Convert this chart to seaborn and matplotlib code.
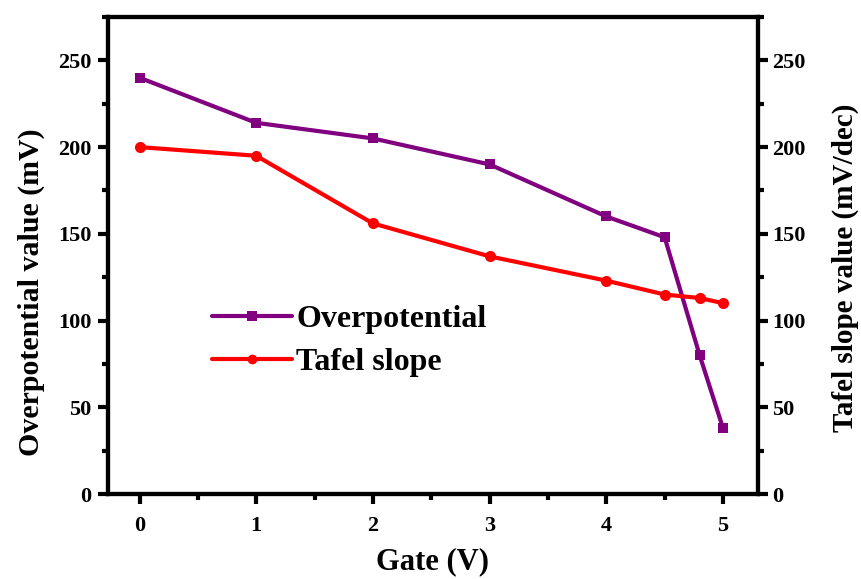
import matplotlib
matplotlib.use("Agg")
import matplotlib.pyplot as plt
from matplotlib.ticker import MultipleLocator
import seaborn as sns
import pandas as pd

gate = [0, 1, 2, 3, 4, 4.5, 4.8, 5]
overpotential = [240, 214, 205, 190, 160, 148, 80, 38]
tafel = [200, 195, 156, 137, 123, 115, 113, 110]

sns.set_style("white")
plt.rcParams['font.family'] = ['Liberation Serif', 'DejaVu Serif']
plt.rcParams['font.weight'] = 'bold'
plt.rcParams['text.color'] = 'black'
plt.rcParams['axes.labelcolor'] = 'black'
plt.rcParams['xtick.color'] = 'black'
plt.rcParams['ytick.color'] = 'black'

fig = plt.figure(figsize=(8.62, 5.79), dpi=100)
ax = fig.add_axes([108/862, 1-494/579, (758-108)/862, (494-17)/579])
ax2 = ax.twinx()

df = pd.DataFrame({"gate": gate, "op": overpotential, "tafel": tafel})
sns.lineplot(data=df, x="gate", y="op", ax=ax, color="#800080", marker="s",
             markersize=7, markeredgewidth=0, linewidth=3, label="Overpotential", legend=False)
sns.lineplot(data=df, x="gate", y="tafel", ax=ax2, color="#ff0000", marker="o",
             markersize=8, markeredgewidth=0, linewidth=3, label="Tafel slope", legend=False)

for a in (ax, ax2):
    a.set_ylim(0, 275)
    a.set_xlim(-0.27, 5.3)
    a.yaxis.set_major_locator(MultipleLocator(50))
    a.yaxis.set_minor_locator(MultipleLocator(25))
    for s in a.spines.values():
        s.set_linewidth(3)
        s.set_color("black")
ax.xaxis.set_major_locator(MultipleLocator(1))
ax.xaxis.set_minor_locator(MultipleLocator(0.5))
ax.tick_params(axis="both", which="major", direction="out", length=7, width=3,
               labelsize=16, left=True, bottom=True, right=False, top=False, pad=5)
ax.tick_params(axis="both", which="minor", direction="out", length=4, width=3,
               left=True, bottom=True, right=False, top=False)
ax2.tick_params(axis="y", which="major", direction="out", length=7, width=3,
                labelsize=16, right=True, left=False, pad=3)
ax2.tick_params(axis="y", which="minor", direction="out", length=4, width=3,
                right=True, left=False)
ax.tick_params(axis="x", pad=9)
for lab in ax.get_xticklabels() + ax.get_yticklabels() + ax2.get_yticklabels():
    lab.set_fontweight("bold")

ax.set_xlabel("Gate (V)", fontsize=22, fontweight="bold", labelpad=8)
ax.set_ylabel("Overpotential value (mV)", fontsize=21.5, fontweight="bold")
ax2.set_ylabel("Tafel slope value (mV/dec)", fontsize=21, fontweight="bold")
ax.yaxis.set_label_coords(-0.097, 0.423)
ax2.yaxis.set_label_coords(1.113, 0.474)

h1, l1 = ax.get_legend_handles_labels()
h2, l2 = ax2.get_legend_handles_labels()
leg = ax2.legend(h1 + h2, l1 + l2, loc="center left", bbox_to_anchor=(183/862, 1-341/579),
                 bbox_transform=fig.transFigure, frameon=False,
                 handlelength=2.5, handletextpad=0.15, labelspacing=0.42,
                 prop={"weight": "bold", "size": 23})
for line in leg.get_lines():
    line.set_markersize(7)

fig.savefig("out.png", dpi=100)
